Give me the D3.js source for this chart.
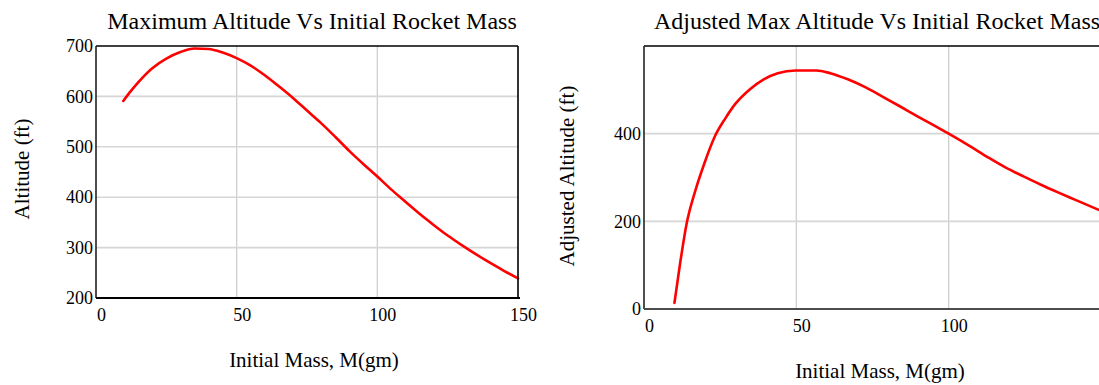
<!DOCTYPE html>
<html><head><meta charset="utf-8">
<script src="https://cdn.jsdelivr.net/npm/d3@7"></script>
<style>
html,body{margin:0;padding:0;background:#fff;}
svg text{font-family:"Liberation Serif","Times New Roman",serif;fill:#000;}
</style></head>
<body><svg id="c" width="1099" height="385"></svg>
<script>
// Left chart data
const massA = [9.7, 12, 15, 20, 25, 30, 35, 40, 45, 50, 55, 60, 65, 70, 75, 80, 85, 90, 95, 100, 105, 110, 115, 120, 125, 130, 135, 140, 145, 150];
const altA  = [591, 608, 628, 656, 675, 688, 695, 694, 687, 676, 661, 642, 620, 597, 572, 547, 520, 492, 466, 441, 415, 391, 367, 345, 324, 305, 287, 270, 254, 239];
// Right chart data
const massB = [10, 11.7, 14, 16.9, 19.8, 23.2, 26.7, 30.1, 34.7, 39.3, 43.9, 49.7, 56.6, 61.1, 66.9, 72.6, 78.4, 84.1, 89.9, 95.6, 100, 107.1, 112.9, 118.6, 124.4, 130.1, 135.9, 141.6, 150];
const adjB  = [14, 97, 195, 271, 332, 393, 435, 469, 501, 524, 538, 544, 544, 538, 524, 506, 484, 462, 439, 417, 400, 371, 346, 323, 303, 284, 266, 249, 224];

const xTicksA = [0, 50, 100, 150];
const yTicksA = [200, 300, 400, 500, 600, 700];
const xTicksB = [0, 50, 100];
const yTicksB = [0, 200, 400];

const titleA = "Maximum Altitude Vs Initial Rocket Mass";
const titleB = "Adjusted Max Altitude Vs Initial Rocket Mass";
const xLabel = "Initial Mass, M(gm)";
const yLabelA = "Altitude (ft)";
const yLabelB = "Adjusted Altitude (ft)";

const svg = d3.select("#c");

function chart(o) {
  const g = svg.append("g");
  const x = d3.scaleLinear().domain(o.xDomain).range([o.left, o.right]);
  const y = d3.scaleLinear().domain(o.yDomain).range([o.bottom, o.top]);
  // gridlines
  g.selectAll(".gx").data(o.xTicks.filter(d => d > o.xDomain[0] && d < o.xDomain[1])).join("line")
    .attr("x1", d => x(d)).attr("x2", d => x(d)).attr("y1", o.top).attr("y2", o.bottom)
    .attr("stroke", "#cfcfcf").attr("stroke-width", 1.3);
  g.selectAll(".gy").data(o.yTicks.filter(d => d > o.yDomain[0] && d < o.yDomain[1])).join("line")
    .attr("x1", o.left).attr("x2", o.right).attr("y1", d => y(d)).attr("y2", d => y(d))
    .attr("stroke", "#d6d6d6").attr("stroke-width", 1.6);
  // line
  const line = d3.line().x(d => x(d[0])).y(d => y(d[1])).curve(d3.curveMonotoneX);
  g.append("path").datum(o.xs.map((v, i) => [v, o.ys[i]]))
    .attr("d", line).attr("fill", "none").attr("stroke", "#ff0000").attr("stroke-width", 2.6)
    .attr("stroke-linejoin", "round").attr("stroke-linecap", "round");
  // frame
  g.append("line").attr("x1", o.left).attr("x2", o.right).attr("y1", o.top).attr("y2", o.top)
    .attr("stroke", "#000").attr("stroke-width", 1.6);
  g.append("line").attr("x1", o.left).attr("x2", o.left).attr("y1", o.top).attr("y2", o.bottom)
    .attr("stroke", "#222").attr("stroke-width", 1.6);
  if (o.rightBorder) g.append("line").attr("x1", o.right).attr("x2", o.right).attr("y1", o.top).attr("y2", o.bottom)
    .attr("stroke", "#000").attr("stroke-width", 1.6);
  g.append("line").attr("x1", o.left).attr("x2", o.right + 2).attr("y1", o.bottom).attr("y2", o.bottom)
    .attr("stroke", o.bottomColor).attr("stroke-width", 2);
  // axes labels via d3 axis (no tick lines)
  const xa = d3.axisBottom(x).tickValues(o.xTicks).tickSize(0).tickPadding(o.xPad).tickFormat(d3.format("d"));
  const gx = g.append("g").attr("transform", `translate(${o.xOff},${o.bottom})`).call(xa);
  gx.select(".domain").remove();
  gx.selectAll("text").attr("font-size", o.tickFont).attr("font-family", "Liberation Serif").attr("fill", "#000");
  const ya = d3.axisLeft(y).tickValues(o.yTicks).tickSize(0).tickPadding(3).tickFormat(d3.format("d"));
  const gy = g.append("g").attr("transform", `translate(${o.left},0)`).call(ya);
  gy.select(".domain").remove();
  gy.selectAll("text").attr("font-size", o.tickFont).attr("font-family", "Liberation Serif").attr("fill", "#000");
  // titles
  g.append("text").attr("x", o.titleX).attr("y", o.titleY).attr("text-anchor", "middle")
    .attr("font-size", o.titleFont).text(o.title);
  g.append("text").attr("x", o.xlX).attr("y", o.xlY).attr("text-anchor", "middle")
    .attr("font-size", o.labelFont).text(o.xLabel);
  g.append("text").attr("transform", `translate(${o.ylX},${o.ylY}) rotate(-90)`).attr("text-anchor", "middle")
    .attr("font-size", o.labelFont).text(o.yLabel);
}

chart({id: "A", xDomain: [0, 150], yDomain: [200, 700], left: 96, right: 518, top: 46, bottom: 298,
  xTicks: xTicksA, yTicks: yTicksA, xs: massA, ys: altA, rightBorder: true, bottomColor: "#000",
  xOff: 5, xPad: 10, tickFont: 18, titleFont: 24, labelFont: 21,
  title: titleA, titleX: 312, titleY: 29, xLabel: xLabel, xlX: 314, xlY: 367, yLabel: yLabelA, ylX: 29, ylY: 169});

chart({id: "B", xDomain: [0, 150], yDomain: [0, 600], left: 644, right: 1101, top: 46, bottom: 309,
  xTicks: xTicksB, yTicks: yTicksB, xs: massB, ys: adjB, rightBorder: false, bottomColor: "#4d4d4d",
  xOff: 5, xPad: 10, tickFont: 18, titleFont: 24, labelFont: 21,
  title: titleB, titleX: 877, titleY: 29, xLabel: xLabel, xlX: 880, xlY: 378, yLabel: yLabelB, ylX: 574, ylY: 176});
</script></body></html>
